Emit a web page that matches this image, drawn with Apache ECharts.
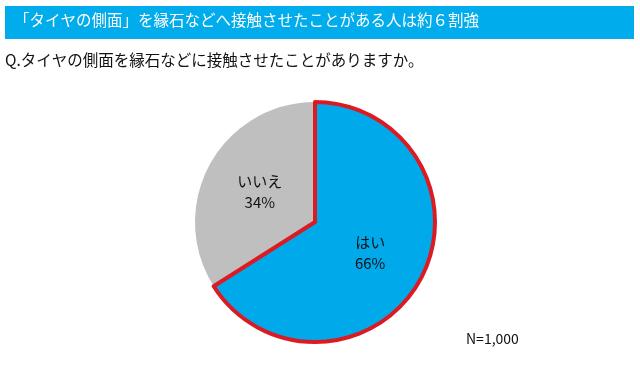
<!DOCTYPE html>
<html><head><meta charset="utf-8">
<script src="https://cdn.jsdelivr.net/npm/echarts@6/dist/echarts.min.js"></script>
<style>html,body{margin:0;padding:0;background:#fff}#c{width:640px;height:378px}</style>
</head><body><div id="c"></div>
<script>
const categories = ['いいえ', 'はい'];
const values = [34, 66];
const titleText = '「タイヤの側面」を縁石などへ接触させたことがある人は約６割強';
const questionText = 'Q.タイヤの側面を縁石などに接触させたことがありますか。';
const noteText = 'N=1,000';

const font = '"Noto Sans CJK JP", sans-serif';
const total = values.reduce((a, b) => a + b, 0);
const chart = echarts.init(document.getElementById('c'), null, {renderer: 'canvas'});
chart.setOption({
  animation: false,
  graphic: [
    {type: 'rect', left: 5, top: 6, shape: {width: 629, height: 33}, style: {fill: '#00ACEC'}},
    {type: 'text', left: 14, top: 12, style: {text: titleText, fill: '#fff', font: '15.5px ' + font}},
    {type: 'text', left: 5, top: 52, style: {text: questionText, fill: '#111', font: '15.5px ' + font}},
    {type: 'text', left: 466, top: 332, style: {text: noteText, fill: '#111', font: '14px ' + font}}
  ],
  series: [{
    type: 'pie',
    center: [315, 222],
    radius: [0, 120],
    startAngle: 90 + 360 * values[0] / total,
    clockwise: true,
    label: {
      show: true, position: 'inside', color: '#111',
      fontFamily: font, fontSize: 15, lineHeight: 21,
      formatter: p => p.name + '\n' + p.value + '%'
    },
    labelLine: {show: false},
    data: categories.map((c, i) => ({
      name: c, value: values[i],
      itemStyle: c === 'はい'
        ? {color: '#00A9EA', borderColor: '#DC1A22', borderWidth: 4}
        : {color: '#BFBFBF', borderWidth: 0}
    }))
  }]
});
</script></body></html>
